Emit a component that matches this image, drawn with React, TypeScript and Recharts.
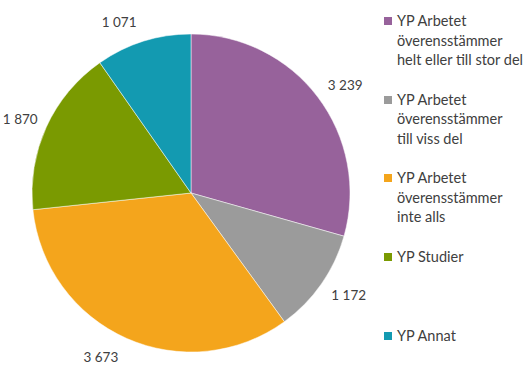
import { PieChart, Pie, Cell, Legend } from 'recharts'

const categories = [
  'YP Arbetet överensstämmer helt eller till stor del',
  'YP Arbetet överensstämmer till viss del',
  'YP Arbetet överensstämmer inte alls',
  'YP Studier',
  'YP Annat',
]
const legendLines = [
  ['YP Arbetet', 'överensstämmer', 'helt eller till stor del'],
  ['YP Arbetet', 'överensstämmer', 'till viss del'],
  ['YP Arbetet', 'överensstämmer', 'inte alls'],
  ['YP Studier'],
  ['YP Annat'],
]
const values = [3239, 1172, 3673, 1870, 1071]
const colors = ['#97629B', '#9B9B9B', '#F4A51C', '#7A9A01', '#139AB1']

const data = categories.map((name, i) => ({ name, value: values[i] }))

const fmt = (v: number) => String(v).replace(/\B(?=(\d{3})+(?!\d))/g, ' ')

const RAD = Math.PI / 180

// excel-ish "outside end" placement: radial gap plus a sideways push for the text box
function renderLabel(props: any) {
  const { cx, cy, midAngle, outerRadius, value } = props
  const ux = Math.cos(-midAngle * RAD)
  const uy = Math.sin(-midAngle * RAD)
  const r = outerRadius + 20
  const x = cx + r * ux + Math.sign(ux) * 19 * Math.abs(uy)
  const y = cy + r * uy
  return (
    <text x={x} y={y} fill="#404040" fontSize={13.5} textAnchor="middle" dominantBaseline="central">
      {fmt(value)}
    </text>
  )
}

function LegendContent() {
  return (
    <div style={{ fontFamily: 'Lato, sans-serif', fontSize: 14.5, color: '#404040' }}>
      {legendLines.map((lines, i) => (
        <div key={i} style={{ position: 'absolute', top: i * 78.7, left: 0, lineHeight: '19.5px' }}>
          {lines.map((l, j) => (
            <div key={j} style={{ whiteSpace: 'nowrap', paddingLeft: 13, position: 'relative' }}>
              {j === 0 && (
                <span
                  style={{
                    position: 'absolute', left: 0, top: 6, width: 8, height: 8,
                    background: colors[i],
                  }}
                />
              )}
              {l}
            </div>
          ))}
        </div>
      ))}
    </div>
  )
}

export default function App() {
  return (
    <div style={{ position: 'absolute', left: 0, top: 0, width: 531, height: 375, background: '#fff' }}>
      <PieChart
        width={531}
        height={375}
        margin={{ top: 0, right: 0, bottom: 0, left: 0 }}
        style={{ fontFamily: 'Lato, sans-serif' }}
      >
        <Pie
          data={data}
          dataKey="value"
          nameKey="name"
          cx={191}
          cy={193}
          outerRadius={159}
          startAngle={90}
          endAngle={-270}
          stroke="#ffffff"
          strokeWidth={0.5}
          label={renderLabel}
          labelLine={false}
          isAnimationActive={false}
        >
          {values.map((_, i) => (
            <Cell key={i} fill={colors[i]} />
          ))}
        </Pie>
        <Legend
          layout="vertical"
          content={<LegendContent />}
          wrapperStyle={{ position: 'absolute', left: 384, top: 11, width: 147, height: 360 }}
        />
      </PieChart>
    </div>
  )
}
